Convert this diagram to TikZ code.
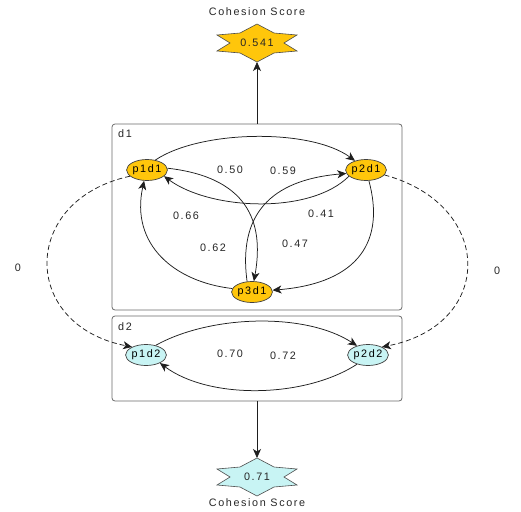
\documentclass[tikz,border=0pt]{standalone}
\usepackage{fontspec}
\setmainfont{Liberation Sans}[LetterSpace=15]
\usetikzlibrary{arrows.meta,shapes.geometric}
\definecolor{gold}{HTML}{FFC60B}
\definecolor{cyanl}{HTML}{C8F4F4}
\definecolor{edgec}{HTML}{1E1E1E}
\definecolor{boxc}{HTML}{6A6A6A}
\tikzset{
  txt/.style={font=\fontsize{10.8}{12}\selectfont, text=black!85, inner sep=0pt},
  pnode/.style={ellipse, draw=black!75, line width=0.7pt, minimum width=37pt, minimum height=21pt, inner sep=0pt, font=\fontsize{10.8}{12}\selectfont},
  ynode/.style={pnode, fill=gold},
  cnode/.style={pnode, fill=cyanl},
  boxnode/.style={draw=boxc, line width=0.8pt, rounded corners=3pt, minimum width=290pt, inner sep=0pt},
  arr/.style={draw=edgec, line width=0.75pt, -{Stealth[length=9pt,width=8pt,inset=2.5pt]}},
  darr/.style={arr, dash pattern=on 5pt off 3pt},
  starpath/.style={draw=black!70, line width=0.6pt}
}
\begin{document}
\begin{tikzpicture}[x=1pt,y=-1pt]
\useasboundingbox (0,0) rectangle (521,511);

% boxes
\node[boxnode, minimum height=186pt] (d1) at (257,217) {};
\node[boxnode, minimum height=85pt] (d2) at (257,358.5) {};
\node[txt] (d1l) at (125,134) {d1};
\node[txt] (d2l) at (125,327) {d2};

% stars
\begin{scope}[shift={(257,43)}]
  \draw[starpath, fill=gold] (0,-19) -- (17,-10) -- (40,-8) -- (27,0) -- (40,8) -- (17,10) -- (0,19) -- (-17,10) -- (-40,8) -- (-27,0) -- (-40,-8) -- (-17,-10) -- cycle;
\end{scope}
\node[txt] (s1) at (257,43) {0.541};
\coordinate (s1b) at (257,62);
\node[txt] (t1) at (257,12) {Cohesion Score};

\begin{scope}[shift={(257,477)}]
  \draw[starpath, fill=cyanl] (0,-19) -- (17,-10) -- (40,-8) -- (27,0) -- (40,8) -- (17,10) -- (0,19) -- (-17,10) -- (-40,8) -- (-27,0) -- (-40,-8) -- (-17,-10) -- cycle;
\end{scope}
\node[txt] (s2) at (257,477) {0.71};
\coordinate (s2t) at (257,458);
\node[txt] (t2) at (257,503) {Cohesion Score};

\draw[arr] (d1.north) -- (s1b);
\draw[arr] (d2.south) -- (s2t);

% nodes
\node[ynode] (p1d1) at (147,170) {p1d1};
\node[ynode] (p2d1) at (366,170) {p2d1};
\node[ynode] (p3d1) at (252,292) {p3d1};
\node[cnode] (p1d2) at (146,355) {p1d2};
\node[cnode] (p2d2) at (368,355) {p2d2};

% d1 edges
\draw[arr] (p1d1.50) .. controls (200,130) and (310,128) .. (p2d1.140);
\draw[arr] (p2d1.200) .. controls (310,215) and (210,210) .. (p1d1.-20);
\draw[arr] (p1d1.5) .. controls (255,178) and (263,230) .. (p3d1.80);
\draw[arr] (p3d1.115) .. controls (238,215) and (270,180) .. (p2d1.190);
\draw[arr] (p3d1.170) .. controls (175,282) and (130,245) .. (p1d1.255);
\draw[arr] (p2d1.-75) .. controls (385,240) and (360,283) .. (p3d1.5);

% d2 edges
\draw[arr] (p1d2.45) .. controls (210,315) and (305,312) .. (p2d2.140);
\draw[arr] (p2d2.220) .. controls (305,398) and (210,400) .. (p1d2.-30);

% dashed cross edges
\draw[darr] (p1d1.200) .. controls (20,200) and (20,325) .. (p1d2.150);
\draw[darr] (p2d1.-15) .. controls (495,205) and (495,325) .. (p2d2.30);

% labels
\node[txt] (l050) at (230,170) {0.50};
\node[txt] (l059) at (283,171) {0.59};
\node[txt] (l066) at (186,216) {0.66};
\node[txt] (l041) at (321,214) {0.41};
\node[txt] (l062) at (213,248) {0.62};
\node[txt] (l047) at (295,244) {0.47};
\node[txt] (l070) at (230,354) {0.70};
\node[txt] (l072) at (283,356) {0.72};
\node[txt] (l0a) at (18,268) {0};
\node[txt] (l0b) at (497,271) {0};
\end{tikzpicture}
\end{document}
